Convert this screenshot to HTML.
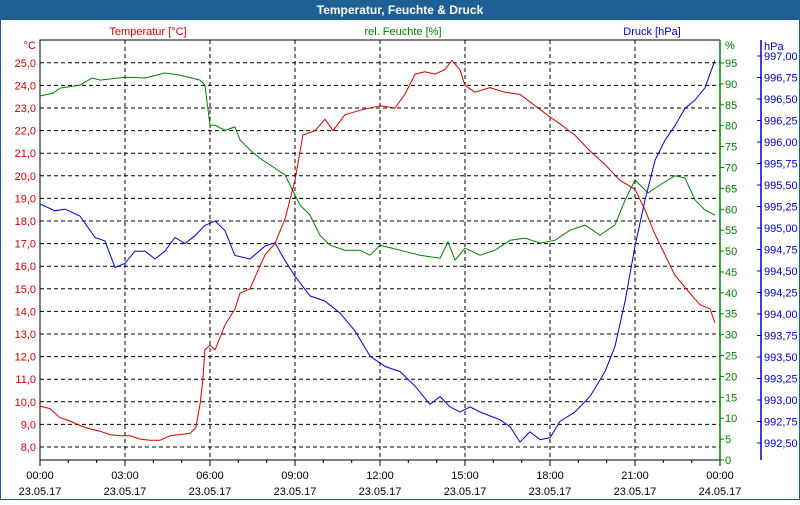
<!DOCTYPE html>
<html><head><meta charset="utf-8">
<style>
html,body{margin:0;padding:0;background:#fff}
body{width:800px;height:500px;overflow:hidden;font-family:"Liberation Sans",sans-serif}
svg text{font-family:"Liberation Sans",sans-serif;font-size:11px}
</style></head>
<body>
<svg id="chart" width="800" height="500" viewBox="0 0 800 500" xmlns="http://www.w3.org/2000/svg">
<rect x="0" y="0" width="800" height="500" fill="#fff" stroke="#1e5f96" stroke-width="2"/>
<rect x="0" y="0" width="800" height="20" fill="#1e5f96"/>
<text x="400" y="14" text-anchor="middle" fill="#fff" font-weight="bold" style="font-size:12px">Temperatur, Feuchte &amp; Druck</text>
<text x="148" y="35" text-anchor="middle" fill="#d00000">Temperatur [°C]</text>
<text x="403" y="35" text-anchor="middle" fill="#008000">rel. Feuchte [%]</text>
<text x="652" y="35" text-anchor="middle" fill="#0000c0">Druck [hPa]</text>
<text x="36" y="49" text-anchor="end" fill="#d00000">°C</text>
<text x="725" y="49" fill="#008000">%</text>
<text x="764" y="50" fill="#0000c0">hPa</text>
<g id="grid"></g>
<g id="axes"></g>
<g id="series"></g>
</svg>
<script>
const tempTicks=[8,9,10,11,12,13,14,15,16,17,18,19,20,21,22,23,24,25];
const humTicks=[0,5,10,15,20,25,30,35,40,45,50,55,60,65,70,75,80,85,90,95];
const presTicks=[992.5,992.75,993,993.25,993.5,993.75,994,994.25,994.5,994.75,995,995.25,995.5,995.75,996,996.25,996.5,996.75,997];
const timeTicks=[0,3,6,9,12,15,18,21,24];
const timeLabels=["00:00","03:00","06:00","09:00","12:00","15:00","18:00","21:00","00:00"];
const dateLabels=["23.05.17","23.05.17","23.05.17","23.05.17","23.05.17","23.05.17","23.05.17","23.05.17","24.05.17"];
const tempTimes=[0,0.18,0.35,0.7,1.06,1.41,1.76,2.12,2.47,2.82,3.18,3.53,3.88,4.24,4.59,4.94,5.29,5.5,5.65,5.75,5.82,6,6.18,6.53,6.88,7.06,7.41,7.69,7.94,8.29,8.65,9,9.28,9.71,10.06,10.34,10.76,11.29,12,12.53,12.88,13.24,13.59,13.94,14.29,14.54,14.82,15,15.35,15.88,16.41,16.94,17.47,18,18.35,18.88,19.41,19.94,20.47,21,21.35,21.71,22.06,22.41,22.94,23.29,23.65,23.82];
const tempValues=[9.8,9.75,9.7,9.3,9.15,8.95,8.8,8.7,8.55,8.5,8.5,8.35,8.3,8.3,8.5,8.55,8.6,8.85,9.9,11.0,12.3,12.5,12.3,13.4,14.1,14.8,15.0,15.8,16.5,17.0,18.1,19.8,21.8,22.0,22.5,22.0,22.7,22.9,23.1,23.0,23.6,24.5,24.6,24.5,24.7,25.1,24.7,24.0,23.7,23.9,23.7,23.6,23.1,22.6,22.3,21.8,21.1,20.5,19.8,19.4,18.5,17.4,16.5,15.6,14.8,14.3,14.1,13.5];
const humTimes=[0,0.46,0.71,1.41,1.84,2.12,3,3.71,4.41,4.94,5.65,5.82,6,6.18,6.53,6.88,7.06,7.41,7.76,8.12,8.65,9,9.18,9.53,9.88,10.24,10.76,11.29,11.65,12,12.71,13.41,14.12,14.4,14.65,15,15.53,16.06,16.59,17.12,17.65,18.18,18.71,19.24,19.76,20.29,20.65,21,21.46,21.88,22.41,22.76,23.12,23.47,23.82];
const humValues=[87.1,87.8,89.0,89.7,91.4,90.9,91.6,91.4,92.6,92.1,90.9,89.7,80.1,80.1,78.9,79.7,76.6,74.2,72.2,70.6,68.2,63.4,61.0,58.6,53.8,51.4,50.2,50.2,49.0,51.4,50.2,49.0,48.3,52.2,47.8,50.7,49.0,50.2,52.6,53.1,51.9,52.6,55.0,56.2,53.8,56.2,62.2,67.0,63.9,65.8,68.0,67.5,62.2,59.8,58.6];
const presTimes=[0,0.53,0.88,1.41,1.94,2.29,2.65,3,3.35,3.71,4.06,4.41,4.76,5.12,5.47,5.82,6.18,6.53,6.88,7.41,7.94,8.29,8.65,9,9.53,10.06,10.59,11.12,11.65,12.18,12.71,13.24,13.76,14.12,14.47,14.82,15.18,15.53,16.24,16.59,16.94,17.29,17.65,18,18.35,18.88,19.41,19.94,20.29,20.65,21,21.35,21.71,22.06,22.41,22.76,23.12,23.47,23.82];
const presValues=[995.28,995.2,995.22,995.14,994.89,994.85,994.54,994.59,994.73,994.73,994.64,994.73,994.89,994.82,994.91,995.03,995.08,994.97,994.68,994.64,994.79,994.83,994.62,994.44,994.21,994.15,994.01,993.8,993.51,993.39,993.33,993.16,992.95,993.04,992.92,992.86,992.92,992.86,992.77,992.69,992.51,992.63,992.54,992.56,992.75,992.86,993.04,993.33,993.62,994.15,994.79,995.32,995.79,996.02,996.19,996.39,996.49,996.63,996.95];

const L=40,R=720,T=40,B=460;
const xS=t=>L+t*(R-L)/24;
const yT=v=>447+(8-v)*22.6;
const yH=v=>460-v*(397/95);
const yP=v=>443-(v-992.5)*86;
const NS="http://www.w3.org/2000/svg";
function mk(tag,attrs,parent,text){const e=document.createElementNS(NS,tag);for(const k in attrs)e.setAttribute(k,attrs[k]);if(text!==undefined)e.textContent=text;parent.appendChild(e);return e;}
const grid=document.getElementById('grid'),axes=document.getElementById('axes'),series=document.getElementById('series');

tempTicks.forEach(v=>{
  const y=yT(v);
  const g=mk('line',{x1:L,x2:R,y1:y,y2:y,stroke:'#000','stroke-dasharray':'4,3','stroke-width':1},grid);
  
  
  const t=mk('text',{x:36,y:y+4,'text-anchor':'end',fill:'#d00000'},axes,v.toFixed(1).replace('.',','));
  
  
});
timeTicks.forEach((h,i)=>{
  const x=xS(h);
  if(i>0&&i<timeTicks.length-1){
    const g=mk('line',{x1:x,x2:x,y1:T,y2:B,stroke:'#000','stroke-dasharray':'4,3','stroke-width':1},grid);
    
    
  }
  const a=mk('text',{x:x,y:479,'text-anchor':'middle',fill:'#000'},axes,timeLabels[i]);
  
  
  const b=mk('text',{x:x,y:495,'text-anchor':'middle',fill:'#000'},axes,dateLabels[i]);
  
  
});
for(let h=0;h<=24;h++){
  const x=xS(h);
  const tk=mk('line',{x1:x,x2:x,y1:B,y2:B+(h%3===0?6:3),stroke:'#000'},axes);
  
  
}
humTicks.forEach(v=>{
  const y=yH(v);
  const tk=mk('line',{x1:R,x2:R+4,y1:y,y2:y,stroke:'#008000'},axes);
  
  
  const t=mk('text',{x:725,y:y+4,fill:'#008000'},axes,String(v));
  
  
});
presTicks.forEach(v=>{
  const y=yP(v);
  const tk=mk('line',{x1:757,x2:761,y1:y,y2:y,stroke:'#0000c0'},axes);
  
  
  const t=mk('text',{x:764,y:y+4,fill:'#0000c0'},axes,v.toFixed(2).replace('.',','));
  
  
});
const fr=mk('path',{d:`M${R},${T} L${L},${T} L${L},${B} L${R},${B}`,fill:'none',stroke:'#000','stroke-width':1},axes);


const ga=mk('line',{x1:R,x2:R,y1:T,y2:B,stroke:'#008000','stroke-width':1.5},axes);


const ba=mk('line',{x1:761,x2:761,y1:T,y2:B,stroke:'#0000c0','stroke-width':1.5},axes);



function line(times,vals,yf,color,name){
  const pts=times.map((t,i)=>xS(t).toFixed(1)+','+yf(vals[i]).toFixed(1)).join(' ');
  const p=mk('polyline',{points:pts,fill:'none',stroke:color,'stroke-width':1},series);
  
  
}
line(humTimes,humValues,yH,'#008000','humidity-line');
line(presTimes,presValues,yP,'#0000d0','pressure-line');
line(tempTimes,tempValues,yT,'#d00000','temperature-line');
</script>
</body></html>
